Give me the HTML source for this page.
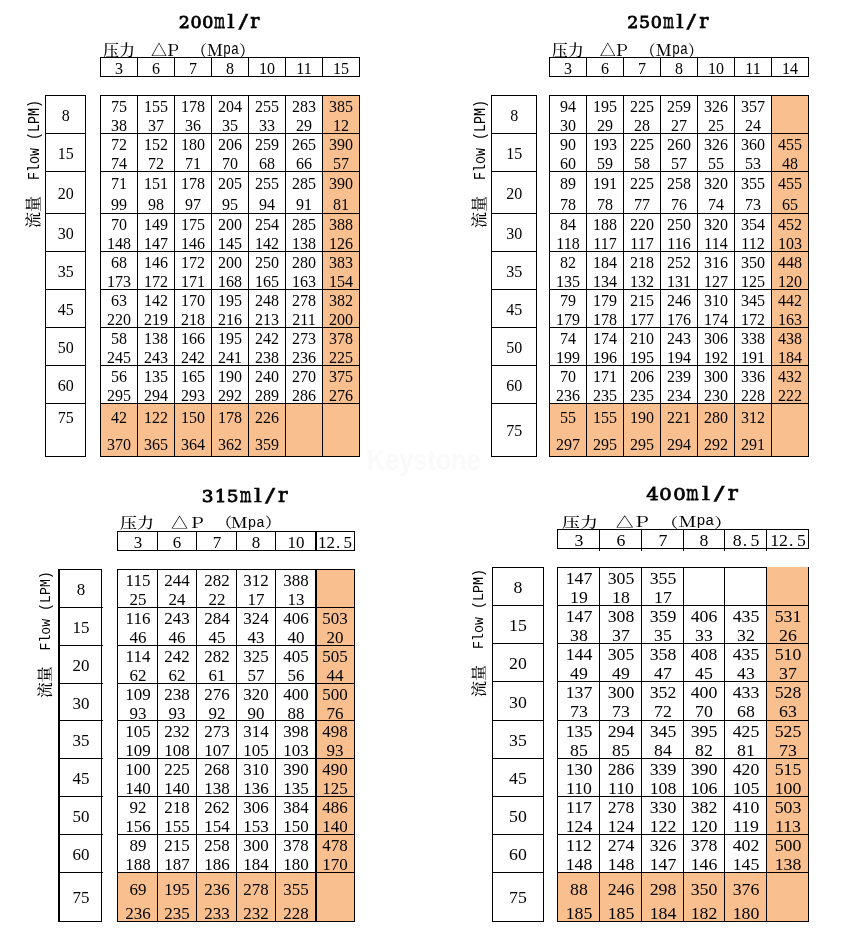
<!DOCTYPE html>
<html lang="zh-CN">
<head>
<meta charset="utf-8">
<title>Flow / Pressure performance tables</title>
<style>
html,body{margin:0;padding:0;background:#fff}
body{width:850px;height:937px;position:relative;overflow:hidden;
  font-family:"Liberation Serif","Noto Serif CJK SC",serif;color:#000}
.tbl{position:absolute;left:0;top:0;width:0;height:0}
i{position:absolute;display:block}
i.k{background:#000}
i.o{background:#FABF8F}
.n{position:absolute;height:16px;line-height:16px;font-size:16px;text-align:center;white-space:nowrap;
  font-family:"Liberation Serif",serif;transform-origin:50% 50%}
.n b{display:inline-block;width:8px;font-weight:normal;text-align:left;text-indent:1px}
.lab{position:absolute;width:152px;height:20px;transform-origin:0 100%;white-space:nowrap}
.rot{position:absolute;width:128px;height:20px;transform-origin:0 50%;white-space:nowrap}
.c{position:absolute;top:0;height:20px;line-height:20px;font-size:16px;font-weight:500;
  font-family:"Noto Serif CJK SC","Liberation Serif",serif}
.m{position:absolute;top:0;height:20px;line-height:20px;font-size:16px;
  font-family:"Liberation Mono",monospace;transform:scaleX(.8333);transform-origin:0 50%}
.ttl{position:absolute;height:28px;line-height:28px;white-space:nowrap;
  font-family:"DejaVu Serif","Liberation Serif",serif;font-size:17.5px;-webkit-text-stroke:.8px #000}
.ch{display:inline-flex;justify-content:center;vertical-align:baseline}
.g{display:block;flex:none;white-space:pre}
.gm{font-size:20px;transform:scaleX(.58);-webkit-text-stroke:.75px #000}
.gl{font-size:19px;transform:scaleX(1.3);-webkit-text-stroke:.3px #000}
.gs{font-size:19px;transform:scaleX(1.5);-webkit-text-stroke:.35px #000}
.gr{font-size:20px;transform:scaleX(.95);-webkit-text-stroke:.7px #000}
#t3 .gd{transform:scaleX(1.06)} #t3 .gm{transform:scaleX(.615)} #t3 .gl{transform:scaleX(1.38)} #t3 .gs{transform:scaleX(1.59)} #t3 .gr{transform:scaleX(1.0)}
#t4 .gd{transform:scaleX(1.12)} #t4 .gm{transform:scaleX(.65)} #t4 .gl{transform:scaleX(1.46)} #t4 .gs{transform:scaleX(1.68)} #t4 .gr{transform:scaleX(1.06)}
.wm{position:absolute;left:367px;top:443px;width:140px;height:34px;line-height:34px;
  font-family:"Liberation Sans",sans-serif;font-weight:bold;font-size:30px;color:#fafafa;
  transform:scaleX(.84);transform-origin:0 50%}
</style>
</head>
<body>
<div class="tbl" id="t1">
<i class="o" style="left:322px;top:95px;width:38px;height:362px"></i>
<i class="o" style="left:100px;top:403px;width:260px;height:54px"></i>
<i class="k" style="left:100px;top:95px;width:1px;height:362px"></i>
<i class="k" style="left:137px;top:95px;width:1px;height:362px"></i>
<i class="k" style="left:174px;top:95px;width:1px;height:362px"></i>
<i class="k" style="left:211px;top:95px;width:1px;height:362px"></i>
<i class="k" style="left:248px;top:95px;width:1px;height:362px"></i>
<i class="k" style="left:285px;top:95px;width:1px;height:362px"></i>
<i class="k" style="left:322px;top:95px;width:1px;height:362px"></i>
<i class="k" style="left:359px;top:95px;width:1px;height:362px"></i>
<i class="k" style="left:100px;top:95px;width:260px;height:1px"></i>
<i class="k" style="left:100px;top:133px;width:260px;height:1px"></i>
<i class="k" style="left:100px;top:171px;width:260px;height:1px"></i>
<i class="k" style="left:100px;top:213px;width:260px;height:1px"></i>
<i class="k" style="left:100px;top:251px;width:260px;height:1px"></i>
<i class="k" style="left:100px;top:289px;width:260px;height:1px"></i>
<i class="k" style="left:100px;top:327px;width:260px;height:1px"></i>
<i class="k" style="left:100px;top:365px;width:260px;height:1px"></i>
<i class="k" style="left:100px;top:403px;width:260px;height:1px"></i>
<i class="k" style="left:100px;top:456px;width:260px;height:1px"></i>
<i class="k" style="left:100px;top:57px;width:260px;height:1px"></i>
<i class="k" style="left:100px;top:76px;width:260px;height:1px"></i>
<i class="k" style="left:100px;top:57px;width:1px;height:20px"></i>
<i class="k" style="left:137px;top:57px;width:1px;height:20px"></i>
<i class="k" style="left:174px;top:57px;width:1px;height:20px"></i>
<i class="k" style="left:211px;top:57px;width:1px;height:20px"></i>
<i class="k" style="left:248px;top:57px;width:1px;height:20px"></i>
<i class="k" style="left:285px;top:57px;width:1px;height:20px"></i>
<i class="k" style="left:322px;top:57px;width:1px;height:20px"></i>
<i class="k" style="left:359px;top:57px;width:1px;height:20px"></i>
<span class="n" style="left:115.00px;top:61.20px;width:8px">3</span>
<span class="n" style="left:152.00px;top:61.20px;width:8px">6</span>
<span class="n" style="left:189.00px;top:61.20px;width:8px">7</span>
<span class="n" style="left:226.00px;top:61.20px;width:8px">8</span>
<span class="n" style="left:259.00px;top:61.20px;width:16px">10</span>
<span class="n" style="left:296.00px;top:61.20px;width:16px">11</span>
<span class="n" style="left:333.00px;top:61.20px;width:16px">15</span>
<i class="k" style="left:45px;top:95px;width:1px;height:362px"></i>
<i class="k" style="left:85px;top:95px;width:1px;height:362px"></i>
<i class="k" style="left:45px;top:95px;width:41px;height:1px"></i>
<i class="k" style="left:45px;top:133px;width:41px;height:1px"></i>
<i class="k" style="left:45px;top:171px;width:41px;height:1px"></i>
<i class="k" style="left:45px;top:213px;width:41px;height:1px"></i>
<i class="k" style="left:45px;top:251px;width:41px;height:1px"></i>
<i class="k" style="left:45px;top:289px;width:41px;height:1px"></i>
<i class="k" style="left:45px;top:327px;width:41px;height:1px"></i>
<i class="k" style="left:45px;top:365px;width:41px;height:1px"></i>
<i class="k" style="left:45px;top:403px;width:41px;height:1px"></i>
<i class="k" style="left:45px;top:456px;width:41px;height:1px"></i>
<span class="n" style="left:61.80px;top:108.10px;width:8px">8</span>
<span class="n" style="left:111.00px;top:99.00px;width:16px">75</span>
<span class="n" style="left:111.00px;top:117.50px;width:16px">38</span>
<span class="n" style="left:144.00px;top:99.00px;width:24px">155</span>
<span class="n" style="left:148.00px;top:117.50px;width:16px">37</span>
<span class="n" style="left:181.00px;top:99.00px;width:24px">178</span>
<span class="n" style="left:185.00px;top:117.50px;width:16px">36</span>
<span class="n" style="left:218.00px;top:99.00px;width:24px">204</span>
<span class="n" style="left:222.00px;top:117.50px;width:16px">35</span>
<span class="n" style="left:255.00px;top:99.00px;width:24px">255</span>
<span class="n" style="left:259.00px;top:117.50px;width:16px">33</span>
<span class="n" style="left:292.00px;top:99.00px;width:24px">283</span>
<span class="n" style="left:296.00px;top:117.50px;width:16px">29</span>
<span class="n" style="left:329.00px;top:99.00px;width:24px">385</span>
<span class="n" style="left:333.00px;top:117.50px;width:16px">12</span>
<span class="n" style="left:57.80px;top:146.10px;width:16px">15</span>
<span class="n" style="left:111.00px;top:137.00px;width:16px">72</span>
<span class="n" style="left:111.00px;top:155.50px;width:16px">74</span>
<span class="n" style="left:144.00px;top:137.00px;width:24px">152</span>
<span class="n" style="left:148.00px;top:155.50px;width:16px">72</span>
<span class="n" style="left:181.00px;top:137.00px;width:24px">180</span>
<span class="n" style="left:185.00px;top:155.50px;width:16px">71</span>
<span class="n" style="left:218.00px;top:137.00px;width:24px">206</span>
<span class="n" style="left:222.00px;top:155.50px;width:16px">70</span>
<span class="n" style="left:255.00px;top:137.00px;width:24px">259</span>
<span class="n" style="left:259.00px;top:155.50px;width:16px">68</span>
<span class="n" style="left:292.00px;top:137.00px;width:24px">265</span>
<span class="n" style="left:296.00px;top:155.50px;width:16px">66</span>
<span class="n" style="left:329.00px;top:137.00px;width:24px">390</span>
<span class="n" style="left:333.00px;top:155.50px;width:16px">57</span>
<span class="n" style="left:57.80px;top:186.10px;width:16px">20</span>
<span class="n" style="left:111.00px;top:175.60px;width:16px">71</span>
<span class="n" style="left:111.00px;top:196.60px;width:16px">99</span>
<span class="n" style="left:144.00px;top:175.60px;width:24px">151</span>
<span class="n" style="left:148.00px;top:196.60px;width:16px">98</span>
<span class="n" style="left:181.00px;top:175.60px;width:24px">178</span>
<span class="n" style="left:185.00px;top:196.60px;width:16px">97</span>
<span class="n" style="left:218.00px;top:175.60px;width:24px">205</span>
<span class="n" style="left:222.00px;top:196.60px;width:16px">95</span>
<span class="n" style="left:255.00px;top:175.60px;width:24px">255</span>
<span class="n" style="left:259.00px;top:196.60px;width:16px">94</span>
<span class="n" style="left:292.00px;top:175.60px;width:24px">285</span>
<span class="n" style="left:296.00px;top:196.60px;width:16px">91</span>
<span class="n" style="left:329.00px;top:175.60px;width:24px">390</span>
<span class="n" style="left:333.00px;top:196.60px;width:16px">81</span>
<span class="n" style="left:57.80px;top:226.10px;width:16px">30</span>
<span class="n" style="left:111.00px;top:217.00px;width:16px">70</span>
<span class="n" style="left:107.00px;top:235.50px;width:24px">148</span>
<span class="n" style="left:144.00px;top:217.00px;width:24px">149</span>
<span class="n" style="left:144.00px;top:235.50px;width:24px">147</span>
<span class="n" style="left:181.00px;top:217.00px;width:24px">175</span>
<span class="n" style="left:181.00px;top:235.50px;width:24px">146</span>
<span class="n" style="left:218.00px;top:217.00px;width:24px">200</span>
<span class="n" style="left:218.00px;top:235.50px;width:24px">145</span>
<span class="n" style="left:255.00px;top:217.00px;width:24px">254</span>
<span class="n" style="left:255.00px;top:235.50px;width:24px">142</span>
<span class="n" style="left:292.00px;top:217.00px;width:24px">285</span>
<span class="n" style="left:292.00px;top:235.50px;width:24px">138</span>
<span class="n" style="left:329.00px;top:217.00px;width:24px">388</span>
<span class="n" style="left:329.00px;top:235.50px;width:24px">126</span>
<span class="n" style="left:57.80px;top:264.10px;width:16px">35</span>
<span class="n" style="left:111.00px;top:255.00px;width:16px">68</span>
<span class="n" style="left:107.00px;top:273.50px;width:24px">173</span>
<span class="n" style="left:144.00px;top:255.00px;width:24px">146</span>
<span class="n" style="left:144.00px;top:273.50px;width:24px">172</span>
<span class="n" style="left:181.00px;top:255.00px;width:24px">172</span>
<span class="n" style="left:181.00px;top:273.50px;width:24px">171</span>
<span class="n" style="left:218.00px;top:255.00px;width:24px">200</span>
<span class="n" style="left:218.00px;top:273.50px;width:24px">168</span>
<span class="n" style="left:255.00px;top:255.00px;width:24px">250</span>
<span class="n" style="left:255.00px;top:273.50px;width:24px">165</span>
<span class="n" style="left:292.00px;top:255.00px;width:24px">280</span>
<span class="n" style="left:292.00px;top:273.50px;width:24px">163</span>
<span class="n" style="left:329.00px;top:255.00px;width:24px">383</span>
<span class="n" style="left:329.00px;top:273.50px;width:24px">154</span>
<span class="n" style="left:57.80px;top:302.10px;width:16px">45</span>
<span class="n" style="left:111.00px;top:293.00px;width:16px">63</span>
<span class="n" style="left:107.00px;top:311.50px;width:24px">220</span>
<span class="n" style="left:144.00px;top:293.00px;width:24px">142</span>
<span class="n" style="left:144.00px;top:311.50px;width:24px">219</span>
<span class="n" style="left:181.00px;top:293.00px;width:24px">170</span>
<span class="n" style="left:181.00px;top:311.50px;width:24px">218</span>
<span class="n" style="left:218.00px;top:293.00px;width:24px">195</span>
<span class="n" style="left:218.00px;top:311.50px;width:24px">216</span>
<span class="n" style="left:255.00px;top:293.00px;width:24px">248</span>
<span class="n" style="left:255.00px;top:311.50px;width:24px">213</span>
<span class="n" style="left:292.00px;top:293.00px;width:24px">278</span>
<span class="n" style="left:292.00px;top:311.50px;width:24px">211</span>
<span class="n" style="left:329.00px;top:293.00px;width:24px">382</span>
<span class="n" style="left:329.00px;top:311.50px;width:24px">200</span>
<span class="n" style="left:57.80px;top:340.10px;width:16px">50</span>
<span class="n" style="left:111.00px;top:331.00px;width:16px">58</span>
<span class="n" style="left:107.00px;top:349.50px;width:24px">245</span>
<span class="n" style="left:144.00px;top:331.00px;width:24px">138</span>
<span class="n" style="left:144.00px;top:349.50px;width:24px">243</span>
<span class="n" style="left:181.00px;top:331.00px;width:24px">166</span>
<span class="n" style="left:181.00px;top:349.50px;width:24px">242</span>
<span class="n" style="left:218.00px;top:331.00px;width:24px">195</span>
<span class="n" style="left:218.00px;top:349.50px;width:24px">241</span>
<span class="n" style="left:255.00px;top:331.00px;width:24px">242</span>
<span class="n" style="left:255.00px;top:349.50px;width:24px">238</span>
<span class="n" style="left:292.00px;top:331.00px;width:24px">273</span>
<span class="n" style="left:292.00px;top:349.50px;width:24px">236</span>
<span class="n" style="left:329.00px;top:331.00px;width:24px">378</span>
<span class="n" style="left:329.00px;top:349.50px;width:24px">225</span>
<span class="n" style="left:57.80px;top:378.10px;width:16px">60</span>
<span class="n" style="left:111.00px;top:369.00px;width:16px">56</span>
<span class="n" style="left:107.00px;top:387.50px;width:24px">295</span>
<span class="n" style="left:144.00px;top:369.00px;width:24px">135</span>
<span class="n" style="left:144.00px;top:387.50px;width:24px">294</span>
<span class="n" style="left:181.00px;top:369.00px;width:24px">165</span>
<span class="n" style="left:181.00px;top:387.50px;width:24px">293</span>
<span class="n" style="left:218.00px;top:369.00px;width:24px">190</span>
<span class="n" style="left:218.00px;top:387.50px;width:24px">292</span>
<span class="n" style="left:255.00px;top:369.00px;width:24px">240</span>
<span class="n" style="left:255.00px;top:387.50px;width:24px">289</span>
<span class="n" style="left:292.00px;top:369.00px;width:24px">270</span>
<span class="n" style="left:292.00px;top:387.50px;width:24px">286</span>
<span class="n" style="left:329.00px;top:369.00px;width:24px">375</span>
<span class="n" style="left:329.00px;top:387.50px;width:24px">276</span>
<span class="n" style="left:57.80px;top:409.60px;width:16px">75</span>
<span class="n" style="left:111.00px;top:409.60px;width:16px">42</span>
<span class="n" style="left:107.00px;top:436.60px;width:24px">370</span>
<span class="n" style="left:144.00px;top:409.60px;width:24px">122</span>
<span class="n" style="left:144.00px;top:436.60px;width:24px">365</span>
<span class="n" style="left:181.00px;top:409.60px;width:24px">150</span>
<span class="n" style="left:181.00px;top:436.60px;width:24px">364</span>
<span class="n" style="left:218.00px;top:409.60px;width:24px">178</span>
<span class="n" style="left:218.00px;top:436.60px;width:24px">362</span>
<span class="n" style="left:255.00px;top:409.60px;width:24px">226</span>
<span class="n" style="left:255.00px;top:436.60px;width:24px">359</span>
<div class="lab" style="left:103px;top:40.3px;transform:scale(1.0,1.0)"><span class="c" style="left:0">压力</span><span class="c" style="left:48px">△</span><span class="c" style="left:61.5px">Ｐ</span><span class="c" style="left:88px">（</span><span class="c" style="left:104px">Ｍ</span><span class="m" style="left:120px">pa</span><span class="c" style="left:136px">）</span></div>
<div class="rot" style="left:33.0px;top:217.5px;transform:rotate(-90deg) scale(1.0,1.0)"><span class="c" style="left:0">流量</span><span class="m" style="left:48px;top:2px">Flow</span><span class="m" style="left:88px;top:2px">(LPM)</span></div>
<div class="ttl" style="left:178.3px;top:6.699999999999999px;width:84.6px"><span class="ch" style="width:11.8px"><span class="g gd">2</span></span><span class="ch" style="width:11.8px"><span class="g gd">0</span></span><span class="ch" style="width:11.8px"><span class="g gd">0</span></span><span class="ch" style="width:11.8px"><span class="g gm">m</span></span><span class="ch" style="width:11.8px"><span class="g gl">l</span></span><span class="ch" style="width:11.8px"><span class="g gs">/</span></span><span class="ch" style="width:11.8px"><span class="g gr">r</span></span></div>
</div>
<div class="tbl" id="t2">
<i class="o" style="left:771px;top:95px;width:38px;height:362px"></i>
<i class="o" style="left:549px;top:403px;width:260px;height:54px"></i>
<i class="k" style="left:549px;top:95px;width:1px;height:362px"></i>
<i class="k" style="left:586px;top:95px;width:1px;height:362px"></i>
<i class="k" style="left:623px;top:95px;width:1px;height:362px"></i>
<i class="k" style="left:660px;top:95px;width:1px;height:362px"></i>
<i class="k" style="left:697px;top:95px;width:1px;height:362px"></i>
<i class="k" style="left:734px;top:95px;width:1px;height:362px"></i>
<i class="k" style="left:771px;top:95px;width:1px;height:362px"></i>
<i class="k" style="left:808px;top:95px;width:1px;height:362px"></i>
<i class="k" style="left:549px;top:95px;width:260px;height:1px"></i>
<i class="k" style="left:549px;top:133px;width:260px;height:1px"></i>
<i class="k" style="left:549px;top:171px;width:260px;height:1px"></i>
<i class="k" style="left:549px;top:213px;width:260px;height:1px"></i>
<i class="k" style="left:549px;top:251px;width:260px;height:1px"></i>
<i class="k" style="left:549px;top:289px;width:260px;height:1px"></i>
<i class="k" style="left:549px;top:327px;width:260px;height:1px"></i>
<i class="k" style="left:549px;top:365px;width:260px;height:1px"></i>
<i class="k" style="left:549px;top:403px;width:260px;height:1px"></i>
<i class="k" style="left:549px;top:456px;width:260px;height:1px"></i>
<i class="k" style="left:549px;top:57px;width:260px;height:1px"></i>
<i class="k" style="left:549px;top:76px;width:260px;height:1px"></i>
<i class="k" style="left:549px;top:57px;width:1px;height:20px"></i>
<i class="k" style="left:586px;top:57px;width:1px;height:20px"></i>
<i class="k" style="left:623px;top:57px;width:1px;height:20px"></i>
<i class="k" style="left:660px;top:57px;width:1px;height:20px"></i>
<i class="k" style="left:697px;top:57px;width:1px;height:20px"></i>
<i class="k" style="left:734px;top:57px;width:1px;height:20px"></i>
<i class="k" style="left:771px;top:57px;width:1px;height:20px"></i>
<i class="k" style="left:808px;top:57px;width:1px;height:20px"></i>
<span class="n" style="left:564.00px;top:61.20px;width:8px">3</span>
<span class="n" style="left:601.00px;top:61.20px;width:8px">6</span>
<span class="n" style="left:638.00px;top:61.20px;width:8px">7</span>
<span class="n" style="left:675.00px;top:61.20px;width:8px">8</span>
<span class="n" style="left:708.00px;top:61.20px;width:16px">10</span>
<span class="n" style="left:745.00px;top:61.20px;width:16px">11</span>
<span class="n" style="left:782.00px;top:61.20px;width:16px">14</span>
<i class="k" style="left:491px;top:95px;width:1px;height:362px"></i>
<i class="k" style="left:536px;top:95px;width:1px;height:362px"></i>
<i class="k" style="left:491px;top:95px;width:46px;height:1px"></i>
<i class="k" style="left:491px;top:133px;width:46px;height:1px"></i>
<i class="k" style="left:491px;top:171px;width:46px;height:1px"></i>
<i class="k" style="left:491px;top:213px;width:46px;height:1px"></i>
<i class="k" style="left:491px;top:251px;width:46px;height:1px"></i>
<i class="k" style="left:491px;top:289px;width:46px;height:1px"></i>
<i class="k" style="left:491px;top:327px;width:46px;height:1px"></i>
<i class="k" style="left:491px;top:365px;width:46px;height:1px"></i>
<i class="k" style="left:491px;top:403px;width:46px;height:1px"></i>
<i class="k" style="left:491px;top:456px;width:46px;height:1px"></i>
<span class="n" style="left:510.30px;top:108.10px;width:8px">8</span>
<span class="n" style="left:560.00px;top:99.00px;width:16px">94</span>
<span class="n" style="left:560.00px;top:117.50px;width:16px">30</span>
<span class="n" style="left:593.00px;top:99.00px;width:24px">195</span>
<span class="n" style="left:597.00px;top:117.50px;width:16px">29</span>
<span class="n" style="left:630.00px;top:99.00px;width:24px">225</span>
<span class="n" style="left:634.00px;top:117.50px;width:16px">28</span>
<span class="n" style="left:667.00px;top:99.00px;width:24px">259</span>
<span class="n" style="left:671.00px;top:117.50px;width:16px">27</span>
<span class="n" style="left:704.00px;top:99.00px;width:24px">326</span>
<span class="n" style="left:708.00px;top:117.50px;width:16px">25</span>
<span class="n" style="left:741.00px;top:99.00px;width:24px">357</span>
<span class="n" style="left:745.00px;top:117.50px;width:16px">24</span>
<span class="n" style="left:506.30px;top:146.10px;width:16px">15</span>
<span class="n" style="left:560.00px;top:137.00px;width:16px">90</span>
<span class="n" style="left:560.00px;top:155.50px;width:16px">60</span>
<span class="n" style="left:593.00px;top:137.00px;width:24px">193</span>
<span class="n" style="left:597.00px;top:155.50px;width:16px">59</span>
<span class="n" style="left:630.00px;top:137.00px;width:24px">225</span>
<span class="n" style="left:634.00px;top:155.50px;width:16px">58</span>
<span class="n" style="left:667.00px;top:137.00px;width:24px">260</span>
<span class="n" style="left:671.00px;top:155.50px;width:16px">57</span>
<span class="n" style="left:704.00px;top:137.00px;width:24px">326</span>
<span class="n" style="left:708.00px;top:155.50px;width:16px">55</span>
<span class="n" style="left:741.00px;top:137.00px;width:24px">360</span>
<span class="n" style="left:745.00px;top:155.50px;width:16px">53</span>
<span class="n" style="left:778.00px;top:137.00px;width:24px">455</span>
<span class="n" style="left:782.00px;top:155.50px;width:16px">48</span>
<span class="n" style="left:506.30px;top:186.10px;width:16px">20</span>
<span class="n" style="left:560.00px;top:175.60px;width:16px">89</span>
<span class="n" style="left:560.00px;top:196.60px;width:16px">78</span>
<span class="n" style="left:593.00px;top:175.60px;width:24px">191</span>
<span class="n" style="left:597.00px;top:196.60px;width:16px">78</span>
<span class="n" style="left:630.00px;top:175.60px;width:24px">225</span>
<span class="n" style="left:634.00px;top:196.60px;width:16px">77</span>
<span class="n" style="left:667.00px;top:175.60px;width:24px">258</span>
<span class="n" style="left:671.00px;top:196.60px;width:16px">76</span>
<span class="n" style="left:704.00px;top:175.60px;width:24px">320</span>
<span class="n" style="left:708.00px;top:196.60px;width:16px">74</span>
<span class="n" style="left:741.00px;top:175.60px;width:24px">355</span>
<span class="n" style="left:745.00px;top:196.60px;width:16px">73</span>
<span class="n" style="left:778.00px;top:175.60px;width:24px">455</span>
<span class="n" style="left:782.00px;top:196.60px;width:16px">65</span>
<span class="n" style="left:506.30px;top:226.10px;width:16px">30</span>
<span class="n" style="left:560.00px;top:217.00px;width:16px">84</span>
<span class="n" style="left:556.00px;top:235.50px;width:24px">118</span>
<span class="n" style="left:593.00px;top:217.00px;width:24px">188</span>
<span class="n" style="left:593.00px;top:235.50px;width:24px">117</span>
<span class="n" style="left:630.00px;top:217.00px;width:24px">220</span>
<span class="n" style="left:630.00px;top:235.50px;width:24px">117</span>
<span class="n" style="left:667.00px;top:217.00px;width:24px">250</span>
<span class="n" style="left:667.00px;top:235.50px;width:24px">116</span>
<span class="n" style="left:704.00px;top:217.00px;width:24px">320</span>
<span class="n" style="left:704.00px;top:235.50px;width:24px">114</span>
<span class="n" style="left:741.00px;top:217.00px;width:24px">354</span>
<span class="n" style="left:741.00px;top:235.50px;width:24px">112</span>
<span class="n" style="left:778.00px;top:217.00px;width:24px">452</span>
<span class="n" style="left:778.00px;top:235.50px;width:24px">103</span>
<span class="n" style="left:506.30px;top:264.10px;width:16px">35</span>
<span class="n" style="left:560.00px;top:255.00px;width:16px">82</span>
<span class="n" style="left:556.00px;top:273.50px;width:24px">135</span>
<span class="n" style="left:593.00px;top:255.00px;width:24px">184</span>
<span class="n" style="left:593.00px;top:273.50px;width:24px">134</span>
<span class="n" style="left:630.00px;top:255.00px;width:24px">218</span>
<span class="n" style="left:630.00px;top:273.50px;width:24px">132</span>
<span class="n" style="left:667.00px;top:255.00px;width:24px">252</span>
<span class="n" style="left:667.00px;top:273.50px;width:24px">131</span>
<span class="n" style="left:704.00px;top:255.00px;width:24px">316</span>
<span class="n" style="left:704.00px;top:273.50px;width:24px">127</span>
<span class="n" style="left:741.00px;top:255.00px;width:24px">350</span>
<span class="n" style="left:741.00px;top:273.50px;width:24px">125</span>
<span class="n" style="left:778.00px;top:255.00px;width:24px">448</span>
<span class="n" style="left:778.00px;top:273.50px;width:24px">120</span>
<span class="n" style="left:506.30px;top:302.10px;width:16px">45</span>
<span class="n" style="left:560.00px;top:293.00px;width:16px">79</span>
<span class="n" style="left:556.00px;top:311.50px;width:24px">179</span>
<span class="n" style="left:593.00px;top:293.00px;width:24px">179</span>
<span class="n" style="left:593.00px;top:311.50px;width:24px">178</span>
<span class="n" style="left:630.00px;top:293.00px;width:24px">215</span>
<span class="n" style="left:630.00px;top:311.50px;width:24px">177</span>
<span class="n" style="left:667.00px;top:293.00px;width:24px">246</span>
<span class="n" style="left:667.00px;top:311.50px;width:24px">176</span>
<span class="n" style="left:704.00px;top:293.00px;width:24px">310</span>
<span class="n" style="left:704.00px;top:311.50px;width:24px">174</span>
<span class="n" style="left:741.00px;top:293.00px;width:24px">345</span>
<span class="n" style="left:741.00px;top:311.50px;width:24px">172</span>
<span class="n" style="left:778.00px;top:293.00px;width:24px">442</span>
<span class="n" style="left:778.00px;top:311.50px;width:24px">163</span>
<span class="n" style="left:506.30px;top:340.10px;width:16px">50</span>
<span class="n" style="left:560.00px;top:331.00px;width:16px">74</span>
<span class="n" style="left:556.00px;top:349.50px;width:24px">199</span>
<span class="n" style="left:593.00px;top:331.00px;width:24px">174</span>
<span class="n" style="left:593.00px;top:349.50px;width:24px">196</span>
<span class="n" style="left:630.00px;top:331.00px;width:24px">210</span>
<span class="n" style="left:630.00px;top:349.50px;width:24px">195</span>
<span class="n" style="left:667.00px;top:331.00px;width:24px">243</span>
<span class="n" style="left:667.00px;top:349.50px;width:24px">194</span>
<span class="n" style="left:704.00px;top:331.00px;width:24px">306</span>
<span class="n" style="left:704.00px;top:349.50px;width:24px">192</span>
<span class="n" style="left:741.00px;top:331.00px;width:24px">338</span>
<span class="n" style="left:741.00px;top:349.50px;width:24px">191</span>
<span class="n" style="left:778.00px;top:331.00px;width:24px">438</span>
<span class="n" style="left:778.00px;top:349.50px;width:24px">184</span>
<span class="n" style="left:506.30px;top:378.10px;width:16px">60</span>
<span class="n" style="left:560.00px;top:369.00px;width:16px">70</span>
<span class="n" style="left:556.00px;top:387.50px;width:24px">236</span>
<span class="n" style="left:593.00px;top:369.00px;width:24px">171</span>
<span class="n" style="left:593.00px;top:387.50px;width:24px">235</span>
<span class="n" style="left:630.00px;top:369.00px;width:24px">206</span>
<span class="n" style="left:630.00px;top:387.50px;width:24px">235</span>
<span class="n" style="left:667.00px;top:369.00px;width:24px">239</span>
<span class="n" style="left:667.00px;top:387.50px;width:24px">234</span>
<span class="n" style="left:704.00px;top:369.00px;width:24px">300</span>
<span class="n" style="left:704.00px;top:387.50px;width:24px">230</span>
<span class="n" style="left:741.00px;top:369.00px;width:24px">336</span>
<span class="n" style="left:741.00px;top:387.50px;width:24px">228</span>
<span class="n" style="left:778.00px;top:369.00px;width:24px">432</span>
<span class="n" style="left:778.00px;top:387.50px;width:24px">222</span>
<span class="n" style="left:506.30px;top:422.50px;width:16px">75</span>
<span class="n" style="left:560.00px;top:409.60px;width:16px">55</span>
<span class="n" style="left:556.00px;top:436.60px;width:24px">297</span>
<span class="n" style="left:593.00px;top:409.60px;width:24px">155</span>
<span class="n" style="left:593.00px;top:436.60px;width:24px">295</span>
<span class="n" style="left:630.00px;top:409.60px;width:24px">190</span>
<span class="n" style="left:630.00px;top:436.60px;width:24px">295</span>
<span class="n" style="left:667.00px;top:409.60px;width:24px">221</span>
<span class="n" style="left:667.00px;top:436.60px;width:24px">294</span>
<span class="n" style="left:704.00px;top:409.60px;width:24px">280</span>
<span class="n" style="left:704.00px;top:436.60px;width:24px">292</span>
<span class="n" style="left:741.00px;top:409.60px;width:24px">312</span>
<span class="n" style="left:741.00px;top:436.60px;width:24px">291</span>
<div class="lab" style="left:551.8px;top:40.3px;transform:scale(1.0,1.0)"><span class="c" style="left:0">压力</span><span class="c" style="left:48px">△</span><span class="c" style="left:61.5px">Ｐ</span><span class="c" style="left:88px">（</span><span class="c" style="left:104px">Ｍ</span><span class="m" style="left:120px">pa</span><span class="c" style="left:136px">）</span></div>
<div class="rot" style="left:478.8px;top:217.5px;transform:rotate(-90deg) scale(1.0,1.0)"><span class="c" style="left:0">流量</span><span class="m" style="left:48px;top:2px">Flow</span><span class="m" style="left:88px;top:2px">(LPM)</span></div>
<div class="ttl" style="left:626.8px;top:6.699999999999999px;width:84.6px"><span class="ch" style="width:11.8px"><span class="g gd">2</span></span><span class="ch" style="width:11.8px"><span class="g gd">5</span></span><span class="ch" style="width:11.8px"><span class="g gd">0</span></span><span class="ch" style="width:11.8px"><span class="g gm">m</span></span><span class="ch" style="width:11.8px"><span class="g gl">l</span></span><span class="ch" style="width:11.8px"><span class="g gs">/</span></span><span class="ch" style="width:11.8px"><span class="g gr">r</span></span></div>
</div>
<div class="tbl" id="t3">
<i class="o" style="left:315px;top:569px;width:40px;height:353px"></i>
<i class="o" style="left:117px;top:872px;width:238px;height:50px"></i>
<i class="k" style="left:117px;top:569px;width:1px;height:353px"></i>
<i class="k" style="left:157px;top:569px;width:1px;height:353px"></i>
<i class="k" style="left:196px;top:569px;width:1px;height:353px"></i>
<i class="k" style="left:236px;top:569px;width:1px;height:353px"></i>
<i class="k" style="left:275px;top:569px;width:1px;height:353px"></i>
<i class="k" style="left:315px;top:569px;width:2px;height:353px"></i>
<i class="k" style="left:354px;top:569px;width:1px;height:353px"></i>
<i class="k" style="left:117px;top:569px;width:238px;height:1px"></i>
<i class="k" style="left:117px;top:607px;width:238px;height:1px"></i>
<i class="k" style="left:117px;top:645px;width:238px;height:1px"></i>
<i class="k" style="left:117px;top:683px;width:238px;height:1px"></i>
<i class="k" style="left:117px;top:720px;width:238px;height:1px"></i>
<i class="k" style="left:117px;top:758px;width:238px;height:1px"></i>
<i class="k" style="left:117px;top:796px;width:238px;height:1px"></i>
<i class="k" style="left:117px;top:834px;width:238px;height:1px"></i>
<i class="k" style="left:117px;top:872px;width:238px;height:1px"></i>
<i class="k" style="left:117px;top:921px;width:238px;height:1px"></i>
<i class="k" style="left:117px;top:531px;width:238px;height:1px"></i>
<i class="k" style="left:117px;top:550px;width:238px;height:1px"></i>
<i class="k" style="left:117px;top:531px;width:1px;height:20px"></i>
<i class="k" style="left:157px;top:531px;width:1px;height:20px"></i>
<i class="k" style="left:196px;top:531px;width:1px;height:20px"></i>
<i class="k" style="left:236px;top:531px;width:1px;height:20px"></i>
<i class="k" style="left:275px;top:531px;width:1px;height:20px"></i>
<i class="k" style="left:315px;top:531px;width:2px;height:20px"></i>
<i class="k" style="left:354px;top:531px;width:1px;height:20px"></i>
<span class="n" style="left:133.50px;top:535.20px;width:8px;transform:scaleX(1.06)">3</span>
<span class="n" style="left:173.00px;top:535.20px;width:8px;transform:scaleX(1.06)">6</span>
<span class="n" style="left:212.50px;top:535.20px;width:8px;transform:scaleX(1.06)">7</span>
<span class="n" style="left:252.00px;top:535.20px;width:8px;transform:scaleX(1.06)">8</span>
<span class="n" style="left:287.50px;top:535.20px;width:16px;transform:scaleX(1.06)">10</span>
<span class="n" style="left:319.00px;top:535.20px;width:32px;transform:scaleX(1.06)">12<b>.</b>5</span>
<i class="k" style="left:58px;top:569px;width:2px;height:353px"></i>
<i class="k" style="left:101px;top:569px;width:1px;height:353px"></i>
<i class="k" style="left:59px;top:569px;width:43px;height:1px"></i>
<i class="k" style="left:59px;top:607px;width:44px;height:1px"></i>
<i class="k" style="left:59px;top:645px;width:44px;height:1px"></i>
<i class="k" style="left:59px;top:683px;width:44px;height:1px"></i>
<i class="k" style="left:59px;top:720px;width:44px;height:1px"></i>
<i class="k" style="left:59px;top:758px;width:44px;height:1px"></i>
<i class="k" style="left:59px;top:796px;width:44px;height:1px"></i>
<i class="k" style="left:59px;top:834px;width:44px;height:1px"></i>
<i class="k" style="left:59px;top:872px;width:44px;height:1px"></i>
<i class="k" style="left:59px;top:921px;width:43px;height:1px"></i>
<span class="n" style="left:77.10px;top:582.10px;width:8px;transform:scaleX(1.06)">8</span>
<span class="n" style="left:125.50px;top:573.00px;width:24px;transform:scaleX(1.06)">115</span>
<span class="n" style="left:129.50px;top:591.50px;width:16px;transform:scaleX(1.06)">25</span>
<span class="n" style="left:165.00px;top:573.00px;width:24px;transform:scaleX(1.06)">244</span>
<span class="n" style="left:169.00px;top:591.50px;width:16px;transform:scaleX(1.06)">24</span>
<span class="n" style="left:204.50px;top:573.00px;width:24px;transform:scaleX(1.06)">282</span>
<span class="n" style="left:208.50px;top:591.50px;width:16px;transform:scaleX(1.06)">22</span>
<span class="n" style="left:244.00px;top:573.00px;width:24px;transform:scaleX(1.06)">312</span>
<span class="n" style="left:248.00px;top:591.50px;width:16px;transform:scaleX(1.06)">17</span>
<span class="n" style="left:283.50px;top:573.00px;width:24px;transform:scaleX(1.06)">388</span>
<span class="n" style="left:287.50px;top:591.50px;width:16px;transform:scaleX(1.06)">13</span>
<span class="n" style="left:73.10px;top:620.10px;width:16px;transform:scaleX(1.06)">15</span>
<span class="n" style="left:125.50px;top:611.00px;width:24px;transform:scaleX(1.06)">116</span>
<span class="n" style="left:129.50px;top:629.50px;width:16px;transform:scaleX(1.06)">46</span>
<span class="n" style="left:165.00px;top:611.00px;width:24px;transform:scaleX(1.06)">243</span>
<span class="n" style="left:169.00px;top:629.50px;width:16px;transform:scaleX(1.06)">46</span>
<span class="n" style="left:204.50px;top:611.00px;width:24px;transform:scaleX(1.06)">284</span>
<span class="n" style="left:208.50px;top:629.50px;width:16px;transform:scaleX(1.06)">45</span>
<span class="n" style="left:244.00px;top:611.00px;width:24px;transform:scaleX(1.06)">324</span>
<span class="n" style="left:248.00px;top:629.50px;width:16px;transform:scaleX(1.06)">43</span>
<span class="n" style="left:283.50px;top:611.00px;width:24px;transform:scaleX(1.06)">406</span>
<span class="n" style="left:287.50px;top:629.50px;width:16px;transform:scaleX(1.06)">40</span>
<span class="n" style="left:323.00px;top:611.00px;width:24px;transform:scaleX(1.06)">503</span>
<span class="n" style="left:327.00px;top:629.50px;width:16px;transform:scaleX(1.06)">20</span>
<span class="n" style="left:73.10px;top:658.10px;width:16px;transform:scaleX(1.06)">20</span>
<span class="n" style="left:125.50px;top:649.00px;width:24px;transform:scaleX(1.06)">114</span>
<span class="n" style="left:129.50px;top:667.50px;width:16px;transform:scaleX(1.06)">62</span>
<span class="n" style="left:165.00px;top:649.00px;width:24px;transform:scaleX(1.06)">242</span>
<span class="n" style="left:169.00px;top:667.50px;width:16px;transform:scaleX(1.06)">62</span>
<span class="n" style="left:204.50px;top:649.00px;width:24px;transform:scaleX(1.06)">282</span>
<span class="n" style="left:208.50px;top:667.50px;width:16px;transform:scaleX(1.06)">61</span>
<span class="n" style="left:244.00px;top:649.00px;width:24px;transform:scaleX(1.06)">325</span>
<span class="n" style="left:248.00px;top:667.50px;width:16px;transform:scaleX(1.06)">57</span>
<span class="n" style="left:283.50px;top:649.00px;width:24px;transform:scaleX(1.06)">405</span>
<span class="n" style="left:287.50px;top:667.50px;width:16px;transform:scaleX(1.06)">56</span>
<span class="n" style="left:323.00px;top:649.00px;width:24px;transform:scaleX(1.06)">505</span>
<span class="n" style="left:327.00px;top:667.50px;width:16px;transform:scaleX(1.06)">44</span>
<span class="n" style="left:73.10px;top:695.60px;width:16px;transform:scaleX(1.06)">30</span>
<span class="n" style="left:125.50px;top:687.00px;width:24px;transform:scaleX(1.06)">109</span>
<span class="n" style="left:129.50px;top:705.50px;width:16px;transform:scaleX(1.06)">93</span>
<span class="n" style="left:165.00px;top:687.00px;width:24px;transform:scaleX(1.06)">238</span>
<span class="n" style="left:169.00px;top:705.50px;width:16px;transform:scaleX(1.06)">93</span>
<span class="n" style="left:204.50px;top:687.00px;width:24px;transform:scaleX(1.06)">276</span>
<span class="n" style="left:208.50px;top:705.50px;width:16px;transform:scaleX(1.06)">92</span>
<span class="n" style="left:244.00px;top:687.00px;width:24px;transform:scaleX(1.06)">320</span>
<span class="n" style="left:248.00px;top:705.50px;width:16px;transform:scaleX(1.06)">90</span>
<span class="n" style="left:283.50px;top:687.00px;width:24px;transform:scaleX(1.06)">400</span>
<span class="n" style="left:287.50px;top:705.50px;width:16px;transform:scaleX(1.06)">88</span>
<span class="n" style="left:323.00px;top:687.00px;width:24px;transform:scaleX(1.06)">500</span>
<span class="n" style="left:327.00px;top:705.50px;width:16px;transform:scaleX(1.06)">76</span>
<span class="n" style="left:73.10px;top:733.10px;width:16px;transform:scaleX(1.06)">35</span>
<span class="n" style="left:125.50px;top:724.00px;width:24px;transform:scaleX(1.06)">105</span>
<span class="n" style="left:125.50px;top:742.50px;width:24px;transform:scaleX(1.06)">109</span>
<span class="n" style="left:165.00px;top:724.00px;width:24px;transform:scaleX(1.06)">232</span>
<span class="n" style="left:165.00px;top:742.50px;width:24px;transform:scaleX(1.06)">108</span>
<span class="n" style="left:204.50px;top:724.00px;width:24px;transform:scaleX(1.06)">273</span>
<span class="n" style="left:204.50px;top:742.50px;width:24px;transform:scaleX(1.06)">107</span>
<span class="n" style="left:244.00px;top:724.00px;width:24px;transform:scaleX(1.06)">314</span>
<span class="n" style="left:244.00px;top:742.50px;width:24px;transform:scaleX(1.06)">105</span>
<span class="n" style="left:283.50px;top:724.00px;width:24px;transform:scaleX(1.06)">398</span>
<span class="n" style="left:283.50px;top:742.50px;width:24px;transform:scaleX(1.06)">103</span>
<span class="n" style="left:323.00px;top:724.00px;width:24px;transform:scaleX(1.06)">498</span>
<span class="n" style="left:327.00px;top:742.50px;width:16px;transform:scaleX(1.06)">93</span>
<span class="n" style="left:73.10px;top:771.10px;width:16px;transform:scaleX(1.06)">45</span>
<span class="n" style="left:125.50px;top:762.00px;width:24px;transform:scaleX(1.06)">100</span>
<span class="n" style="left:125.50px;top:780.50px;width:24px;transform:scaleX(1.06)">140</span>
<span class="n" style="left:165.00px;top:762.00px;width:24px;transform:scaleX(1.06)">225</span>
<span class="n" style="left:165.00px;top:780.50px;width:24px;transform:scaleX(1.06)">140</span>
<span class="n" style="left:204.50px;top:762.00px;width:24px;transform:scaleX(1.06)">268</span>
<span class="n" style="left:204.50px;top:780.50px;width:24px;transform:scaleX(1.06)">138</span>
<span class="n" style="left:244.00px;top:762.00px;width:24px;transform:scaleX(1.06)">310</span>
<span class="n" style="left:244.00px;top:780.50px;width:24px;transform:scaleX(1.06)">136</span>
<span class="n" style="left:283.50px;top:762.00px;width:24px;transform:scaleX(1.06)">390</span>
<span class="n" style="left:283.50px;top:780.50px;width:24px;transform:scaleX(1.06)">135</span>
<span class="n" style="left:323.00px;top:762.00px;width:24px;transform:scaleX(1.06)">490</span>
<span class="n" style="left:323.00px;top:780.50px;width:24px;transform:scaleX(1.06)">125</span>
<span class="n" style="left:73.10px;top:809.10px;width:16px;transform:scaleX(1.06)">50</span>
<span class="n" style="left:129.50px;top:800.00px;width:16px;transform:scaleX(1.06)">92</span>
<span class="n" style="left:125.50px;top:818.50px;width:24px;transform:scaleX(1.06)">156</span>
<span class="n" style="left:165.00px;top:800.00px;width:24px;transform:scaleX(1.06)">218</span>
<span class="n" style="left:165.00px;top:818.50px;width:24px;transform:scaleX(1.06)">155</span>
<span class="n" style="left:204.50px;top:800.00px;width:24px;transform:scaleX(1.06)">262</span>
<span class="n" style="left:204.50px;top:818.50px;width:24px;transform:scaleX(1.06)">154</span>
<span class="n" style="left:244.00px;top:800.00px;width:24px;transform:scaleX(1.06)">306</span>
<span class="n" style="left:244.00px;top:818.50px;width:24px;transform:scaleX(1.06)">153</span>
<span class="n" style="left:283.50px;top:800.00px;width:24px;transform:scaleX(1.06)">384</span>
<span class="n" style="left:283.50px;top:818.50px;width:24px;transform:scaleX(1.06)">150</span>
<span class="n" style="left:323.00px;top:800.00px;width:24px;transform:scaleX(1.06)">486</span>
<span class="n" style="left:323.00px;top:818.50px;width:24px;transform:scaleX(1.06)">140</span>
<span class="n" style="left:73.10px;top:847.10px;width:16px;transform:scaleX(1.06)">60</span>
<span class="n" style="left:129.50px;top:838.00px;width:16px;transform:scaleX(1.06)">89</span>
<span class="n" style="left:125.50px;top:856.50px;width:24px;transform:scaleX(1.06)">188</span>
<span class="n" style="left:165.00px;top:838.00px;width:24px;transform:scaleX(1.06)">215</span>
<span class="n" style="left:165.00px;top:856.50px;width:24px;transform:scaleX(1.06)">187</span>
<span class="n" style="left:204.50px;top:838.00px;width:24px;transform:scaleX(1.06)">258</span>
<span class="n" style="left:204.50px;top:856.50px;width:24px;transform:scaleX(1.06)">186</span>
<span class="n" style="left:244.00px;top:838.00px;width:24px;transform:scaleX(1.06)">300</span>
<span class="n" style="left:244.00px;top:856.50px;width:24px;transform:scaleX(1.06)">184</span>
<span class="n" style="left:283.50px;top:838.00px;width:24px;transform:scaleX(1.06)">378</span>
<span class="n" style="left:283.50px;top:856.50px;width:24px;transform:scaleX(1.06)">180</span>
<span class="n" style="left:323.00px;top:838.00px;width:24px;transform:scaleX(1.06)">478</span>
<span class="n" style="left:323.00px;top:856.50px;width:24px;transform:scaleX(1.06)">170</span>
<span class="n" style="left:73.10px;top:889.50px;width:16px;transform:scaleX(1.06)">75</span>
<span class="n" style="left:129.50px;top:881.60px;width:16px;transform:scaleX(1.06)">69</span>
<span class="n" style="left:125.50px;top:905.60px;width:24px;transform:scaleX(1.06)">236</span>
<span class="n" style="left:165.00px;top:881.60px;width:24px;transform:scaleX(1.06)">195</span>
<span class="n" style="left:165.00px;top:905.60px;width:24px;transform:scaleX(1.06)">235</span>
<span class="n" style="left:204.50px;top:881.60px;width:24px;transform:scaleX(1.06)">236</span>
<span class="n" style="left:204.50px;top:905.60px;width:24px;transform:scaleX(1.06)">233</span>
<span class="n" style="left:244.00px;top:881.60px;width:24px;transform:scaleX(1.06)">278</span>
<span class="n" style="left:244.00px;top:905.60px;width:24px;transform:scaleX(1.06)">232</span>
<span class="n" style="left:283.50px;top:881.60px;width:24px;transform:scaleX(1.06)">355</span>
<span class="n" style="left:283.50px;top:905.60px;width:24px;transform:scaleX(1.06)">228</span>
<div class="lab" style="left:120.4px;top:511.79999999999995px;transform:scale(1.065,0.9)"><span class="c" style="left:0">压力</span><span class="c" style="left:48px">△</span><span class="c" style="left:64px">Ｐ</span><span class="c" style="left:89.5px">（</span><span class="c" style="left:104px">Ｍ</span><span class="m" style="left:120px">pa</span><span class="c" style="left:136px">）</span></div>
<div class="rot" style="left:45.4px;top:688.2px;transform:rotate(-90deg) scale(0.99,0.9)"><span class="c" style="left:0">流量</span><span class="m" style="left:48px;top:1px">Flow</span><span class="m" style="left:88px;top:1px">(LPM)</span></div>
<div class="ttl" style="left:201.5px;top:480.8px;width:89.5px"><span class="ch" style="width:12.5px"><span class="g gd">3</span></span><span class="ch" style="width:12.5px"><span class="g gd">1</span></span><span class="ch" style="width:12.5px"><span class="g gd">5</span></span><span class="ch" style="width:12.5px"><span class="g gm">m</span></span><span class="ch" style="width:12.5px"><span class="g gl">l</span></span><span class="ch" style="width:12.5px"><span class="g gs">/</span></span><span class="ch" style="width:12.5px"><span class="g gr">r</span></span></div>
</div>
<div class="tbl" id="t4">
<i class="o" style="left:766px;top:567px;width:43px;height:355px"></i>
<i class="o" style="left:557px;top:872px;width:252px;height:50px"></i>
<i class="k" style="left:557px;top:567px;width:1px;height:355px"></i>
<i class="k" style="left:599px;top:567px;width:1px;height:355px"></i>
<i class="k" style="left:641px;top:567px;width:1px;height:355px"></i>
<i class="k" style="left:683px;top:567px;width:1px;height:355px"></i>
<i class="k" style="left:724px;top:567px;width:1px;height:355px"></i>
<i class="k" style="left:766px;top:567px;width:1px;height:355px"></i>
<i class="k" style="left:808px;top:567px;width:1px;height:355px"></i>
<i class="k" style="left:557px;top:567px;width:210px;height:1px"></i>
<i class="k" style="left:557px;top:605px;width:252px;height:1px"></i>
<i class="k" style="left:557px;top:643px;width:252px;height:1px"></i>
<i class="k" style="left:557px;top:681px;width:252px;height:1px"></i>
<i class="k" style="left:557px;top:720px;width:252px;height:1px"></i>
<i class="k" style="left:557px;top:758px;width:252px;height:1px"></i>
<i class="k" style="left:557px;top:796px;width:252px;height:1px"></i>
<i class="k" style="left:557px;top:834px;width:252px;height:1px"></i>
<i class="k" style="left:557px;top:872px;width:252px;height:1px"></i>
<i class="k" style="left:557px;top:921px;width:252px;height:1px"></i>
<i class="k" style="left:557px;top:529px;width:252px;height:1px"></i>
<i class="k" style="left:557px;top:548px;width:252px;height:1px"></i>
<i class="k" style="left:557px;top:529px;width:1px;height:20px"></i>
<i class="k" style="left:599px;top:529px;width:1px;height:22px"></i>
<i class="k" style="left:641px;top:529px;width:1px;height:22px"></i>
<i class="k" style="left:683px;top:529px;width:1px;height:22px"></i>
<i class="k" style="left:724px;top:529px;width:1px;height:22px"></i>
<i class="k" style="left:766px;top:529px;width:1px;height:22px"></i>
<i class="k" style="left:808px;top:529px;width:1px;height:20px"></i>
<span class="n" style="left:574.50px;top:533.20px;width:8px;transform:scaleX(1.11)">3</span>
<span class="n" style="left:616.50px;top:533.20px;width:8px;transform:scaleX(1.11)">6</span>
<span class="n" style="left:658.50px;top:533.20px;width:8px;transform:scaleX(1.11)">7</span>
<span class="n" style="left:700.00px;top:533.20px;width:8px;transform:scaleX(1.11)">8</span>
<span class="n" style="left:733.50px;top:533.20px;width:24px;transform:scaleX(1.11)">8<b>.</b>5</span>
<span class="n" style="left:771.50px;top:533.20px;width:32px;transform:scaleX(1.11)">12<b>.</b>5</span>
<i class="k" style="left:492px;top:567px;width:1px;height:355px"></i>
<i class="k" style="left:543px;top:567px;width:1px;height:355px"></i>
<i class="k" style="left:492px;top:567px;width:52px;height:1px"></i>
<i class="k" style="left:492px;top:605px;width:52px;height:1px"></i>
<i class="k" style="left:492px;top:643px;width:52px;height:1px"></i>
<i class="k" style="left:492px;top:681px;width:52px;height:1px"></i>
<i class="k" style="left:492px;top:720px;width:52px;height:1px"></i>
<i class="k" style="left:492px;top:758px;width:52px;height:1px"></i>
<i class="k" style="left:492px;top:796px;width:52px;height:1px"></i>
<i class="k" style="left:492px;top:834px;width:52px;height:1px"></i>
<i class="k" style="left:492px;top:872px;width:52px;height:1px"></i>
<i class="k" style="left:492px;top:921px;width:52px;height:1px"></i>
<span class="n" style="left:514.30px;top:580.10px;width:8px;transform:scaleX(1.11)">8</span>
<span class="n" style="left:566.50px;top:571.00px;width:24px;transform:scaleX(1.11)">147</span>
<span class="n" style="left:570.50px;top:589.50px;width:16px;transform:scaleX(1.11)">19</span>
<span class="n" style="left:608.50px;top:571.00px;width:24px;transform:scaleX(1.11)">305</span>
<span class="n" style="left:612.50px;top:589.50px;width:16px;transform:scaleX(1.11)">18</span>
<span class="n" style="left:650.50px;top:571.00px;width:24px;transform:scaleX(1.11)">355</span>
<span class="n" style="left:654.50px;top:589.50px;width:16px;transform:scaleX(1.11)">17</span>
<span class="n" style="left:510.30px;top:618.10px;width:16px;transform:scaleX(1.11)">15</span>
<span class="n" style="left:566.50px;top:609.00px;width:24px;transform:scaleX(1.11)">147</span>
<span class="n" style="left:570.50px;top:627.50px;width:16px;transform:scaleX(1.11)">38</span>
<span class="n" style="left:608.50px;top:609.00px;width:24px;transform:scaleX(1.11)">308</span>
<span class="n" style="left:612.50px;top:627.50px;width:16px;transform:scaleX(1.11)">37</span>
<span class="n" style="left:650.50px;top:609.00px;width:24px;transform:scaleX(1.11)">359</span>
<span class="n" style="left:654.50px;top:627.50px;width:16px;transform:scaleX(1.11)">35</span>
<span class="n" style="left:692.00px;top:609.00px;width:24px;transform:scaleX(1.11)">406</span>
<span class="n" style="left:696.00px;top:627.50px;width:16px;transform:scaleX(1.11)">33</span>
<span class="n" style="left:733.50px;top:609.00px;width:24px;transform:scaleX(1.11)">435</span>
<span class="n" style="left:737.50px;top:627.50px;width:16px;transform:scaleX(1.11)">32</span>
<span class="n" style="left:775.50px;top:609.00px;width:24px;transform:scaleX(1.11)">531</span>
<span class="n" style="left:779.50px;top:627.50px;width:16px;transform:scaleX(1.11)">26</span>
<span class="n" style="left:510.30px;top:656.10px;width:16px;transform:scaleX(1.11)">20</span>
<span class="n" style="left:566.50px;top:647.00px;width:24px;transform:scaleX(1.11)">144</span>
<span class="n" style="left:570.50px;top:665.50px;width:16px;transform:scaleX(1.11)">49</span>
<span class="n" style="left:608.50px;top:647.00px;width:24px;transform:scaleX(1.11)">305</span>
<span class="n" style="left:612.50px;top:665.50px;width:16px;transform:scaleX(1.11)">49</span>
<span class="n" style="left:650.50px;top:647.00px;width:24px;transform:scaleX(1.11)">358</span>
<span class="n" style="left:654.50px;top:665.50px;width:16px;transform:scaleX(1.11)">47</span>
<span class="n" style="left:692.00px;top:647.00px;width:24px;transform:scaleX(1.11)">408</span>
<span class="n" style="left:696.00px;top:665.50px;width:16px;transform:scaleX(1.11)">45</span>
<span class="n" style="left:733.50px;top:647.00px;width:24px;transform:scaleX(1.11)">435</span>
<span class="n" style="left:737.50px;top:665.50px;width:16px;transform:scaleX(1.11)">43</span>
<span class="n" style="left:775.50px;top:647.00px;width:24px;transform:scaleX(1.11)">510</span>
<span class="n" style="left:779.50px;top:665.50px;width:16px;transform:scaleX(1.11)">37</span>
<span class="n" style="left:510.30px;top:694.60px;width:16px;transform:scaleX(1.11)">30</span>
<span class="n" style="left:566.50px;top:685.00px;width:24px;transform:scaleX(1.11)">137</span>
<span class="n" style="left:570.50px;top:703.50px;width:16px;transform:scaleX(1.11)">73</span>
<span class="n" style="left:608.50px;top:685.00px;width:24px;transform:scaleX(1.11)">300</span>
<span class="n" style="left:612.50px;top:703.50px;width:16px;transform:scaleX(1.11)">73</span>
<span class="n" style="left:650.50px;top:685.00px;width:24px;transform:scaleX(1.11)">352</span>
<span class="n" style="left:654.50px;top:703.50px;width:16px;transform:scaleX(1.11)">72</span>
<span class="n" style="left:692.00px;top:685.00px;width:24px;transform:scaleX(1.11)">400</span>
<span class="n" style="left:696.00px;top:703.50px;width:16px;transform:scaleX(1.11)">70</span>
<span class="n" style="left:733.50px;top:685.00px;width:24px;transform:scaleX(1.11)">433</span>
<span class="n" style="left:737.50px;top:703.50px;width:16px;transform:scaleX(1.11)">68</span>
<span class="n" style="left:775.50px;top:685.00px;width:24px;transform:scaleX(1.11)">528</span>
<span class="n" style="left:779.50px;top:703.50px;width:16px;transform:scaleX(1.11)">63</span>
<span class="n" style="left:510.30px;top:733.10px;width:16px;transform:scaleX(1.11)">35</span>
<span class="n" style="left:566.50px;top:724.00px;width:24px;transform:scaleX(1.11)">135</span>
<span class="n" style="left:570.50px;top:742.50px;width:16px;transform:scaleX(1.11)">85</span>
<span class="n" style="left:608.50px;top:724.00px;width:24px;transform:scaleX(1.11)">294</span>
<span class="n" style="left:612.50px;top:742.50px;width:16px;transform:scaleX(1.11)">85</span>
<span class="n" style="left:650.50px;top:724.00px;width:24px;transform:scaleX(1.11)">345</span>
<span class="n" style="left:654.50px;top:742.50px;width:16px;transform:scaleX(1.11)">84</span>
<span class="n" style="left:692.00px;top:724.00px;width:24px;transform:scaleX(1.11)">395</span>
<span class="n" style="left:696.00px;top:742.50px;width:16px;transform:scaleX(1.11)">82</span>
<span class="n" style="left:733.50px;top:724.00px;width:24px;transform:scaleX(1.11)">425</span>
<span class="n" style="left:737.50px;top:742.50px;width:16px;transform:scaleX(1.11)">81</span>
<span class="n" style="left:775.50px;top:724.00px;width:24px;transform:scaleX(1.11)">525</span>
<span class="n" style="left:779.50px;top:742.50px;width:16px;transform:scaleX(1.11)">73</span>
<span class="n" style="left:510.30px;top:771.10px;width:16px;transform:scaleX(1.11)">45</span>
<span class="n" style="left:566.50px;top:762.00px;width:24px;transform:scaleX(1.11)">130</span>
<span class="n" style="left:566.50px;top:780.50px;width:24px;transform:scaleX(1.11)">110</span>
<span class="n" style="left:608.50px;top:762.00px;width:24px;transform:scaleX(1.11)">286</span>
<span class="n" style="left:608.50px;top:780.50px;width:24px;transform:scaleX(1.11)">110</span>
<span class="n" style="left:650.50px;top:762.00px;width:24px;transform:scaleX(1.11)">339</span>
<span class="n" style="left:650.50px;top:780.50px;width:24px;transform:scaleX(1.11)">108</span>
<span class="n" style="left:692.00px;top:762.00px;width:24px;transform:scaleX(1.11)">390</span>
<span class="n" style="left:692.00px;top:780.50px;width:24px;transform:scaleX(1.11)">106</span>
<span class="n" style="left:733.50px;top:762.00px;width:24px;transform:scaleX(1.11)">420</span>
<span class="n" style="left:733.50px;top:780.50px;width:24px;transform:scaleX(1.11)">105</span>
<span class="n" style="left:775.50px;top:762.00px;width:24px;transform:scaleX(1.11)">515</span>
<span class="n" style="left:775.50px;top:780.50px;width:24px;transform:scaleX(1.11)">100</span>
<span class="n" style="left:510.30px;top:809.10px;width:16px;transform:scaleX(1.11)">50</span>
<span class="n" style="left:566.50px;top:800.00px;width:24px;transform:scaleX(1.11)">117</span>
<span class="n" style="left:566.50px;top:818.50px;width:24px;transform:scaleX(1.11)">124</span>
<span class="n" style="left:608.50px;top:800.00px;width:24px;transform:scaleX(1.11)">278</span>
<span class="n" style="left:608.50px;top:818.50px;width:24px;transform:scaleX(1.11)">124</span>
<span class="n" style="left:650.50px;top:800.00px;width:24px;transform:scaleX(1.11)">330</span>
<span class="n" style="left:650.50px;top:818.50px;width:24px;transform:scaleX(1.11)">122</span>
<span class="n" style="left:692.00px;top:800.00px;width:24px;transform:scaleX(1.11)">382</span>
<span class="n" style="left:692.00px;top:818.50px;width:24px;transform:scaleX(1.11)">120</span>
<span class="n" style="left:733.50px;top:800.00px;width:24px;transform:scaleX(1.11)">410</span>
<span class="n" style="left:733.50px;top:818.50px;width:24px;transform:scaleX(1.11)">119</span>
<span class="n" style="left:775.50px;top:800.00px;width:24px;transform:scaleX(1.11)">503</span>
<span class="n" style="left:775.50px;top:818.50px;width:24px;transform:scaleX(1.11)">113</span>
<span class="n" style="left:510.30px;top:847.10px;width:16px;transform:scaleX(1.11)">60</span>
<span class="n" style="left:566.50px;top:838.00px;width:24px;transform:scaleX(1.11)">112</span>
<span class="n" style="left:566.50px;top:856.50px;width:24px;transform:scaleX(1.11)">148</span>
<span class="n" style="left:608.50px;top:838.00px;width:24px;transform:scaleX(1.11)">274</span>
<span class="n" style="left:608.50px;top:856.50px;width:24px;transform:scaleX(1.11)">148</span>
<span class="n" style="left:650.50px;top:838.00px;width:24px;transform:scaleX(1.11)">326</span>
<span class="n" style="left:650.50px;top:856.50px;width:24px;transform:scaleX(1.11)">147</span>
<span class="n" style="left:692.00px;top:838.00px;width:24px;transform:scaleX(1.11)">378</span>
<span class="n" style="left:692.00px;top:856.50px;width:24px;transform:scaleX(1.11)">146</span>
<span class="n" style="left:733.50px;top:838.00px;width:24px;transform:scaleX(1.11)">402</span>
<span class="n" style="left:733.50px;top:856.50px;width:24px;transform:scaleX(1.11)">145</span>
<span class="n" style="left:775.50px;top:838.00px;width:24px;transform:scaleX(1.11)">500</span>
<span class="n" style="left:775.50px;top:856.50px;width:24px;transform:scaleX(1.11)">138</span>
<span class="n" style="left:510.30px;top:889.50px;width:16px;transform:scaleX(1.11)">75</span>
<span class="n" style="left:570.50px;top:881.60px;width:16px;transform:scaleX(1.11)">88</span>
<span class="n" style="left:566.50px;top:905.60px;width:24px;transform:scaleX(1.11)">185</span>
<span class="n" style="left:608.50px;top:881.60px;width:24px;transform:scaleX(1.11)">246</span>
<span class="n" style="left:608.50px;top:905.60px;width:24px;transform:scaleX(1.11)">185</span>
<span class="n" style="left:650.50px;top:881.60px;width:24px;transform:scaleX(1.11)">298</span>
<span class="n" style="left:650.50px;top:905.60px;width:24px;transform:scaleX(1.11)">184</span>
<span class="n" style="left:692.00px;top:881.60px;width:24px;transform:scaleX(1.11)">350</span>
<span class="n" style="left:692.00px;top:905.60px;width:24px;transform:scaleX(1.11)">182</span>
<span class="n" style="left:733.50px;top:881.60px;width:24px;transform:scaleX(1.11)">376</span>
<span class="n" style="left:733.50px;top:905.60px;width:24px;transform:scaleX(1.11)">180</span>
<div class="lab" style="left:561.8px;top:510px;transform:scale(1.12,0.86)"><span class="c" style="left:0">压力</span><span class="c" style="left:48px">△</span><span class="c" style="left:63px">Ｐ</span><span class="c" style="left:88px">（</span><span class="c" style="left:104px">Ｍ</span><span class="m" style="left:120px">pa</span><span class="c" style="left:136px">）</span></div>
<div class="rot" style="left:479.0px;top:686.6px;transform:rotate(-90deg) scale(1.0,0.9)"><span class="c" style="left:0">流量</span><span class="m" style="left:48px;top:1px">Flow</span><span class="m" style="left:88px;top:1px">(LPM)</span></div>
<div class="ttl" style="left:646.0px;top:478.8px;width:95.1px"><span class="ch" style="width:13.3px"><span class="g gd">4</span></span><span class="ch" style="width:13.3px"><span class="g gd">0</span></span><span class="ch" style="width:13.3px"><span class="g gd">0</span></span><span class="ch" style="width:13.3px"><span class="g gm">m</span></span><span class="ch" style="width:13.3px"><span class="g gl">l</span></span><span class="ch" style="width:13.3px"><span class="g gs">/</span></span><span class="ch" style="width:13.3px"><span class="g gr">r</span></span></div>
</div>
<div class="wm">Keystone</div>
</body>
</html>
